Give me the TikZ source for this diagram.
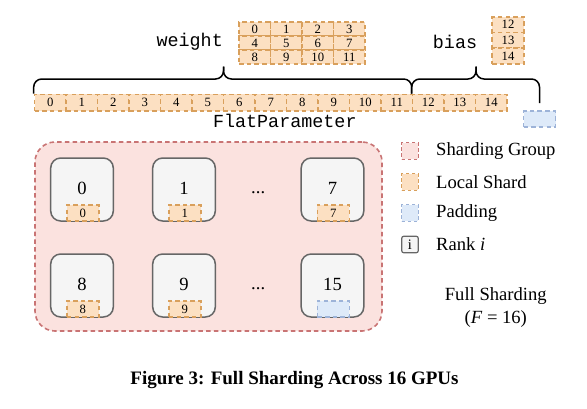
\documentclass[tikz,border=0pt]{standalone}
\usepackage{fontspec}
\setmainfont{Liberation Serif}
\setmonofont{Liberation Mono}
\begin{document}
\begin{tikzpicture}[x=1pt,y=-1pt,
  every node/.style={inner sep=0pt},
  mainfont/.style={font=\fontsize{18.6}{22}\selectfont},
  smallfont/.style={font=\fontsize{12.7}{14}\selectfont},
  monofont/.style={font=\fontsize{18.4}{22}\selectfont\ttfamily},
  dsh/.style={dash pattern=on 4.5pt off 3.2pt, line width=1.6pt},
  shard/.style={dsh, draw=shardline, fill=shardfill, minimum width=31.5pt, minimum height=16.4pt, smallfont},
  wcell/.style={shard, minimum height=14pt},
  bcell/.style={shard, minimum height=15.7pt},
  padcell/.style={dsh, draw=padline, fill=padfill, minimum width=32pt, minimum height=16pt},
  rankbox/.style={draw=rankline, fill=rankfill, line width=1.5pt, rounded corners=10pt, minimum width=62.6pt, minimum height=63pt, mainfont},
  bracestyle/.style={line width=1.5pt, rounded corners=8pt},
  legsq/.style={dsh, line width=1.3pt, dash pattern=on 3.5pt off 2.5pt, minimum width=16.5pt, minimum height=16.5pt},
  legtext/.style={mainfont, anchor=west},
]
\definecolor{shardfill}{HTML}{FCE0C2}
\definecolor{shardline}{HTML}{D9A05C}
\definecolor{padfill}{HTML}{DEEAF9}
\definecolor{padline}{HTML}{9DB3D8}
\definecolor{groupfill}{HTML}{FBE2DF}
\definecolor{groupline}{HTML}{C97474}
\definecolor{rankfill}{HTML}{F5F5F5}
\definecolor{rankline}{HTML}{666666}
\useasboundingbox (0,0) rectangle (587,408);

% weight and bias labels
\node[monofont] (wlabel) at (189.7,42) {weight};
\node[monofont] (blabel) at (455,42) {bias};

% weight grid
\foreach \r in {0,1,2}{
  \foreach \c in {0,1,2,3}{
    \pgfmathtruncatemacro{\n}{4*\r+\c}
    \node[wcell] (w\n) at ({239+15.75+31.5*\c},{22+7+14*\r}) {\n};
  }
}
% bias grid
\foreach \r in {0,1,2}{
  \pgfmathtruncatemacro{\n}{12+\r}
  \node[bcell, minimum width=32pt] (b\n) at (508,{16.7+7.85+15.7*\r}) {\n};
}

% flat parameter row
\foreach \c in {0,...,14}{
  \node[shard] (f\c) at ({34.5+15.75+31.5*\c},102.5) {\c};
}
\node[padcell] (pad) at (539.5,119) {};
\node[monofont] (flabel) at (284.8,120.5) {FlatParameter};

% braces
\draw[bracestyle] (f0.north west) -- (f0.north west |- 0,79) -- (223.5,79) -- (223.5,66.5);
\draw[bracestyle] (223.5,66.5) -- (223.5,79) -- (f12.north west |- 0,79) -- (f12.north west);
\draw[bracestyle] (f12.north west) -- (f12.north west |- 0,79) -- (476,79) -- (476,66.5);
\draw[bracestyle] (476,66.5) -- (476,79) -- (pad.north |- 0,79) -- (pad.north |- 0,103);

% sharding group
\node[dsh, draw=groupline, fill=groupfill, rounded corners=20pt, minimum width=347pt, minimum height=189pt] (group) at (208.5,236.5) {};

% rank boxes
\foreach \n/\x/\y in {0/82/189.5, 1/184/189.5, 7/332.5/189.5, 8/82/285.5, 9/184/285.5}{
  \node[rankbox] (r\n) at (\x,\y) {\raisebox{2pt}{\n}};
  \node[shard, minimum width=32pt, minimum height=16pt, anchor=south] (s\n) at ([xshift=0.8pt]r\n.south) {\n};
}
\node[rankbox] (r15) at (332.5,285.5) {\raisebox{2pt}{15}};
\node[padcell, anchor=south] (s15) at ([xshift=0.8pt]r15.south) {};
\node[mainfont] (dots1) at (258.2,193) {...};
\node[mainfont] (dots2) at (258.2,289) {...};

% legend
\node[legsq, draw=groupline, fill=groupfill] (lg1) at (410,151) {};
\node[legtext] (lt1) at (436,151) {Sharding Group};
\node[legsq, draw=shardline, fill=shardfill] (lg2) at (410,182) {};
\node[legtext] (lt2) at (436,182) {Local Shard};
\node[legsq, draw=padline, fill=padfill] (lg3) at (410,213) {};
\node[legtext] (lt3) at (436,213) {Padding};
\node[draw=rankline, fill=rankfill, line width=1.2pt, rounded corners=2pt, minimum width=16.5pt, minimum height=16.5pt, font=\fontsize{14.5}{16}\selectfont] (lg4) at (410,244.5) {i};
\node[legtext] (lt4) at (436,244.5) {Rank \textit{i}};

% full sharding label
\node[mainfont, align=center] (fs) at (495.8,308) {Full Sharding\\[1pt](\textit{F} = 16)};

% caption
\node[font=\fontsize{19}{22}\selectfont\bfseries] (cap) at (294.5,380) {Figure 3: Full Sharding Across 16 GPUs};
\end{tikzpicture}
\end{document}
